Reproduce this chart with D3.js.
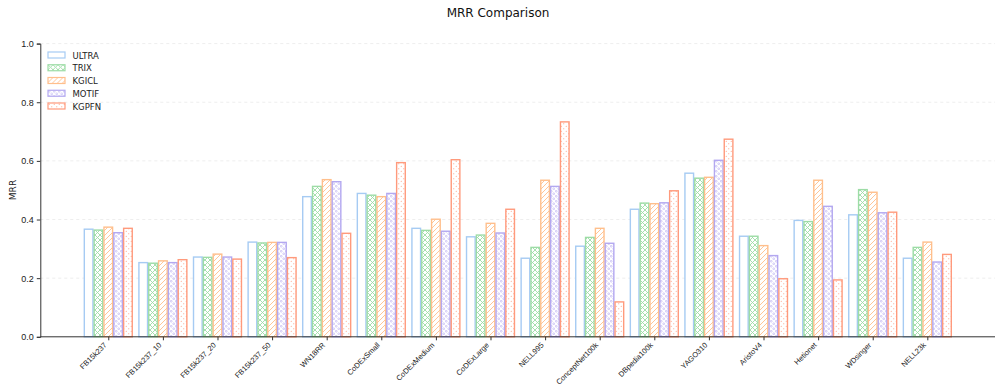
<!DOCTYPE html>
<html><head><meta charset="utf-8">
<script src="https://cdn.jsdelivr.net/npm/d3@7"></script>
<style>body{margin:0;background:#fff}svg{display:block;font-family:"DejaVu Sans",sans-serif}</style>
</head><body><svg id="c" width="995" height="386"></svg>
<script>
const categories = ["FB15k237","FB15k237_10","FB15k237_20","FB15k237_50","WN18RR","CoDExSmall","CoDExMedium","CoDExLarge","NELL995","ConceptNet100k","DBpedia100k","YAGO310","AristoV4","Hetionet","WDsinger","NELL23k"];
const seriesNames = ["ULTRA","TRIX","KGICL","MOTIF","KGPFN"];
const ULTRA = [0.367,0.253,0.272,0.323,0.478,0.489,0.370,0.341,0.268,0.309,0.435,0.558,0.343,0.397,0.416,0.268];
const TRIX  = [0.364,0.251,0.271,0.320,0.513,0.483,0.363,0.347,0.305,0.339,0.456,0.541,0.343,0.393,0.502,0.305];
const KGICL = [0.374,0.259,0.282,0.322,0.536,0.478,0.401,0.387,0.534,0.370,0.454,0.544,0.311,0.534,0.493,0.323];
const MOTIF = [0.355,0.253,0.272,0.322,0.529,0.489,0.360,0.354,0.513,0.319,0.457,0.602,0.277,0.445,0.423,0.255];
const KGPFN = [0.370,0.263,0.265,0.270,0.353,0.594,0.604,0.435,0.733,0.119,0.498,0.674,0.198,0.194,0.425,0.281];
const yTicks = [0.0,0.2,0.4,0.6,0.8,1.0];
const seriesValues = [ULTRA,TRIX,KGICL,MOTIF,KGPFN];
const colors = ["#a6cbf3","#9ddca6","#ffbf8c","#b3a8f0","#ff9a7c"];
const hatches = ["none","cross","slash","circle","dot"];

const svg = d3.select("#c");
const x = d3.scaleLinear().domain([-1.245,16.245]).range([40.3,995.3]);
const y = d3.scaleLinear().domain([0,1]).range([336.8,43.6]);
const bw = 0.18;

const defs = svg.append("defs");
colors.forEach((c,i)=>{
  const h = hatches[i];
  if(h==="none") return;
  let p;
  if(h==="cross"){
    p = defs.append("pattern").attr("id","h"+i).attr("patternUnits","userSpaceOnUse").attr("width",5).attr("height",5);
    p.append("path").attr("d","M0,0L5,5M5,0L0,5").attr("stroke",c).attr("stroke-width",0.9).attr("fill","none");
  } else if(h==="slash"){
    p = defs.append("pattern").attr("id","h"+i).attr("patternUnits","userSpaceOnUse").attr("width",5).attr("height",5);
    p.append("path").attr("d","M-1,6L6,-1M-1,1L1,-1M4,6L6,4").attr("stroke",c).attr("stroke-width",0.9).attr("fill","none");
  } else if(h==="circle"){
    p = defs.append("pattern").attr("id","h"+i).attr("patternUnits","userSpaceOnUse").attr("width",5).attr("height",5);
    p.append("circle").attr("cx",1.25).attr("cy",1.25).attr("r",0.9).attr("stroke",c).attr("stroke-width",0.6).attr("fill","none");
    p.append("circle").attr("cx",3.75).attr("cy",3.75).attr("r",0.9).attr("stroke",c).attr("stroke-width",0.6).attr("fill","none");
  } else {
    p = defs.append("pattern").attr("id","h"+i).attr("patternUnits","userSpaceOnUse").attr("width",5).attr("height",5);
    p.append("circle").attr("cx",1.25).attr("cy",1.25).attr("r",0.55).attr("fill",c);
    p.append("circle").attr("cx",3.75).attr("cy",3.75).attr("r",0.55).attr("fill",c);
  }
});

// grid
svg.append("g").selectAll("line").data(yTicks.filter(d=>d>0)).join("line")
  .attr("x1",40.3).attr("x2",995).attr("y1",d=>y(d)).attr("y2",d=>y(d))
  .attr("stroke","#e8e8e8").attr("stroke-width",0.8).attr("stroke-dasharray","3,3");

// bars
seriesValues.forEach((vals,j)=>{
  const g = svg.append("g");
  g.selectAll("rect").data(vals).join("rect")
    .attr("x",(d,i)=>x(i+(j-2)*bw-bw/2)+0.6)
    .attr("width",x(bw)-x(0)-1.2)
    .attr("y",d=>y(d))
    .attr("height",d=>y(0)-y(d))
    .attr("fill",hatches[j]==="none"?"#fff":"url(#h"+j+")")
    .attr("stroke",colors[j]).attr("stroke-width",1.4);
});

// axes
const xa = svg.append("g").attr("transform","translate(0,"+y(0)+")")
  .call(d3.axisBottom(x).tickValues(d3.range(categories.length)).tickFormat(i=>categories[i]).tickSizeOuter(0).tickSize(3.5));
xa.select(".domain").attr("stroke","#333").attr("d","M40.3,0H995");
xa.selectAll(".tick line").attr("stroke","#333");
xa.selectAll(".tick text").attr("font-size",7.5).attr("fill","#222")
  .attr("text-anchor","end").attr("x",0).attr("y",0).attr("dx",0).attr("dy",0)
  .attr("transform","translate(-1.5,8.8) rotate(-45)");

const ya = svg.append("g").attr("transform","translate(40.3,0)")
  .call(d3.axisLeft(y).tickValues(yTicks).tickFormat(d3.format(".1f")).tickSizeOuter(0).tickSize(3.5));
ya.select(".domain").attr("stroke","#333");
ya.selectAll(".tick line").attr("stroke","#333");
ya.selectAll(".tick text").attr("font-size",9).attr("fill","#222");

svg.append("text").attr("transform","translate(16,190) rotate(-90)").attr("text-anchor","middle")
  .attr("font-size",9).attr("fill","#222").text("MRR");
svg.append("text").attr("x",498).attr("y",17).attr("text-anchor","middle")
  .attr("font-size",12).attr("fill","#111").text("MRR Comparison");

// legend
const lg = svg.append("g").attr("transform","translate(48,52)");
seriesNames.forEach((n,j)=>{
  const r = lg.append("g").attr("transform","translate(0,"+(j*12.75)+")");
  r.append("rect").attr("x",0).attr("y",0).attr("width",17).attr("height",6)
    .attr("fill",hatches[j]==="none"?"#fff":"url(#h"+j+")").attr("stroke",colors[j]).attr("stroke-width",1.2);
  r.append("text").attr("x",24.5).attr("y",6.5).attr("font-size",8.5).attr("fill","#222").text(n);
});
</script></body></html>
